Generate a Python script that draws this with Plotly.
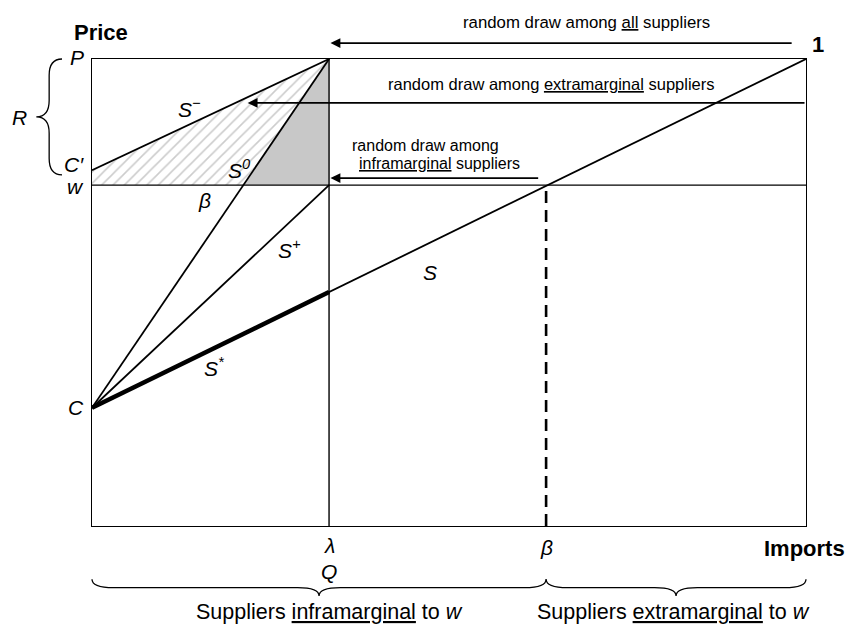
import plotly.graph_objects as go

# ---------------- data ----------------
# quantity (imports / share of suppliers) levels on the horizontal axis
q_names = ["λ", "β", "1"]
q_values = [0.332, 0.636, 1.0]
# price levels on the vertical axis
p_names = ["C", "w", "C′", "P"]
p_values = [0.253, 0.730, 0.762, 1.0]

# supply schedules: start / end points, expressed with the levels above
curve_names = ["S", "S⁺", "S⁰", "S⁻"]
curve_y0 = ["C", "C", "C", "C′"]
curve_x1 = ["1", "λ", "λ", "λ"]
curve_y1 = ["P", "w", "P", "P"]

Q = dict(zip(q_names, q_values))
PR = dict(zip(p_names, p_values))
lam, beta, one = Q["λ"], Q["β"], Q["1"]
C, w, Cp, P = PR["C"], PR["w"], PR["C′"], PR["P"]

FONT = "Liberation Sans, Arial, Helvetica, sans-serif"
BLACK = "#000000"
PLOT_W = 714  # plot area width in px

fig = go.Figure()

# S0 crossing of the w line
x_s0_w = lam * (w - C) / (P - C)

# hatched region between S- and S0 above w
fig.add_trace(go.Scatter(
    x=[0, lam, x_s0_w, 0, 0], y=[Cp, P, w, w, Cp],
    mode="lines", fill="toself", line=dict(width=0),
    fillcolor="white",
    fillpattern=dict(shape="/", fgcolor="#9a9a9a", bgcolor="white", size=8, solidity=0.2),
    hoverinfo="skip", showlegend=False))
# gray region between S0 and lambda above w
fig.add_trace(go.Scatter(
    x=[lam, lam, x_s0_w, lam], y=[P, w, w, P],
    mode="lines", fill="toself", line=dict(width=0),
    fillcolor="#c8c8c8", hoverinfo="skip", showlegend=False))

# w horizontal line
fig.add_trace(go.Scatter(x=[0, one], y=[w, w], mode="lines",
                         line=dict(color=BLACK, width=1.4), hoverinfo="skip", showlegend=False))
# lambda vertical line
fig.add_trace(go.Scatter(x=[lam, lam], y=[0, P], mode="lines",
                         line=dict(color=BLACK, width=1.4), hoverinfo="skip", showlegend=False))
# beta dashed line
fig.add_trace(go.Scatter(x=[beta, beta], y=[0, w], mode="lines",
                         line=dict(color=BLACK, width=2.6, dash="12px,7px"),
                         hoverinfo="skip", showlegend=False))

# supply curves
for name, y0, x1, y1 in zip(curve_names, curve_y0, curve_x1, curve_y1):
    fig.add_trace(go.Scatter(x=[0, Q[x1]], y=[PR[y0], PR[y1]], mode="lines",
                             line=dict(color=BLACK, width=1.8),
                             hoverinfo="skip", showlegend=False, name=name))

# S* : thick part of S up to lambda
s_at_lam = C + (P - C) * lam / one
fig.add_trace(go.Scatter(x=[0, lam], y=[C, s_at_lam], mode="lines",
                         line=dict(color=BLACK, width=4.5), hoverinfo="skip", showlegend=False))

ann = []


def txt(x, y, text, size=21, xanchor="center", yanchor="middle", italic=False, bold=False):
    t = text
    if italic:
        t = "<i>" + t + "</i>"
    if bold:
        t = "<b>" + t + "</b>"
    ann.append(dict(x=x, y=y, xref="paper", yref="paper", text=t, showarrow=False,
                    xanchor=xanchor, yanchor=yanchor,
                    font=dict(family=FONT, size=size, color=BLACK)))


# axis titles
txt(0.013, 1.057, "Price", size=22, bold=True)
txt(0.998, -0.049, "Imports", size=22, bold=True)
txt(1.017, 1.032, "1", size=22, bold=True)

# left labels
txt(-0.009, P + 0.004, "P", italic=True, xanchor="right")
txt(-0.009, Cp + 0.012, "C′", italic=True, xanchor="right")
txt(-0.009, w - 0.003, "w", italic=True, xanchor="right")
txt(-0.009, C, "C", italic=True, xanchor="right")
txt(-0.101, 0.874, "R", italic=True)

# curve labels
txt(0.137, 0.895, "S<sup>−</sup>", italic=True)
txt(0.207, 0.764, "S<sup>0</sup>", italic=True)
txt(0.158, 0.698, "β", italic=True)
txt(0.277, 0.593, "S<sup>+</sup>", italic=True)
txt(0.473, 0.542, "S", italic=True)
txt(0.172, 0.340, "S<sup>*</sup>", italic=True)

# bottom labels
txt(lam, -0.041, "λ", italic=True)
txt(lam, -0.098, "Q", italic=True)
txt(beta, -0.047, "β", italic=True)
txt(beta / 2 + 0.015, -0.184, "Suppliers <u>inframarginal</u> to <i>w</i>", size=21.5)
txt((beta + one) / 2 - 0.004, -0.184, "Suppliers <u>extramarginal</u> to <i>w</i>", size=21.5)

# arrow texts
txt(0.693, 1.079, "random draw among <u>all</u> suppliers", size=16.8)
txt(0.643, 0.946, "random draw among <u>extramarginal</u> suppliers", size=16.5)
txt(0.361, 0.814, "random draw among", size=16, xanchor="left")
txt(0.371, 0.777, "<u>inframarginal</u> suppliers", size=16, xanchor="left")

# arrows (tip x, tail x, y) in paper units; tail given as pixel offset
for tail, tip, yy in [(0.982, lam + 0.002, 1.034), (one, 0.218, 0.906), (0.627, lam + 0.002, 0.745)]:
    ann.append(dict(x=tip, y=yy, xref="paper", yref="paper",
                    ax=(tail - tip) * PLOT_W, ay=0,
                    text="", showarrow=True, arrowhead=2, arrowsize=1.1, arrowwidth=1.8,
                    arrowcolor=BLACK, standoff=0))


# braces
def hbrace(x0, x1, yt, depth, dx):
    ym = yt - depth / 2
    yb = yt - depth
    xm = (x0 + x1) / 2
    return (f"M {x0},{yt} Q {x0},{ym} {x0+dx},{ym} L {xm-dx},{ym} "
            f"Q {xm},{ym} {xm},{yb} Q {xm},{ym} {xm+dx},{ym} L {x1-dx},{ym} Q {x1},{ym} {x1},{yt}")


def vbrace(y0, y1, xr, depth, dy):
    xm = xr - depth / 2
    xl = xr - depth
    ymid = (y0 + y1) / 2
    return (f"M {xr},{y0} Q {xm},{y0} {xm},{y0+dy} L {xm},{ymid-dy} "
            f"Q {xm},{ymid} {xl},{ymid} Q {xm},{ymid} {xm},{ymid+dy} L {xm},{y1-dy} Q {xm},{y1} {xr},{y1}")


shapes = [
    dict(type="path", xref="paper", yref="paper",
         path=hbrace(0.0, beta, -0.114, 0.036, 0.03), line=dict(color=BLACK, width=1.3)),
    dict(type="path", xref="paper", yref="paper",
         path=hbrace(beta, one, -0.114, 0.036, 0.03), line=dict(color=BLACK, width=1.3)),
    dict(type="path", xref="paper", yref="paper",
         path=vbrace(0.752, P, -0.042, 0.036, 0.035), line=dict(color=BLACK, width=1.3)),
]

# page body adds an 8px offset, so the figure is 8px smaller than the window
fig.update_layout(
    width=847, height=619,
    margin=dict(l=84, r=49, t=51, b=101),
    paper_bgcolor="white", plot_bgcolor="white",
    showlegend=False,
    annotations=ann, shapes=shapes,
    xaxis=dict(range=[0, 1], showgrid=False, zeroline=False, showticklabels=False, ticks="",
               showline=True, mirror=True, linecolor=BLACK, linewidth=1.4, fixedrange=True),
    yaxis=dict(range=[0, 1], showgrid=False, zeroline=False, showticklabels=False, ticks="",
               showline=True, mirror=True, linecolor=BLACK, linewidth=1.4, fixedrange=True),
)

fig.write_html("out.html")
